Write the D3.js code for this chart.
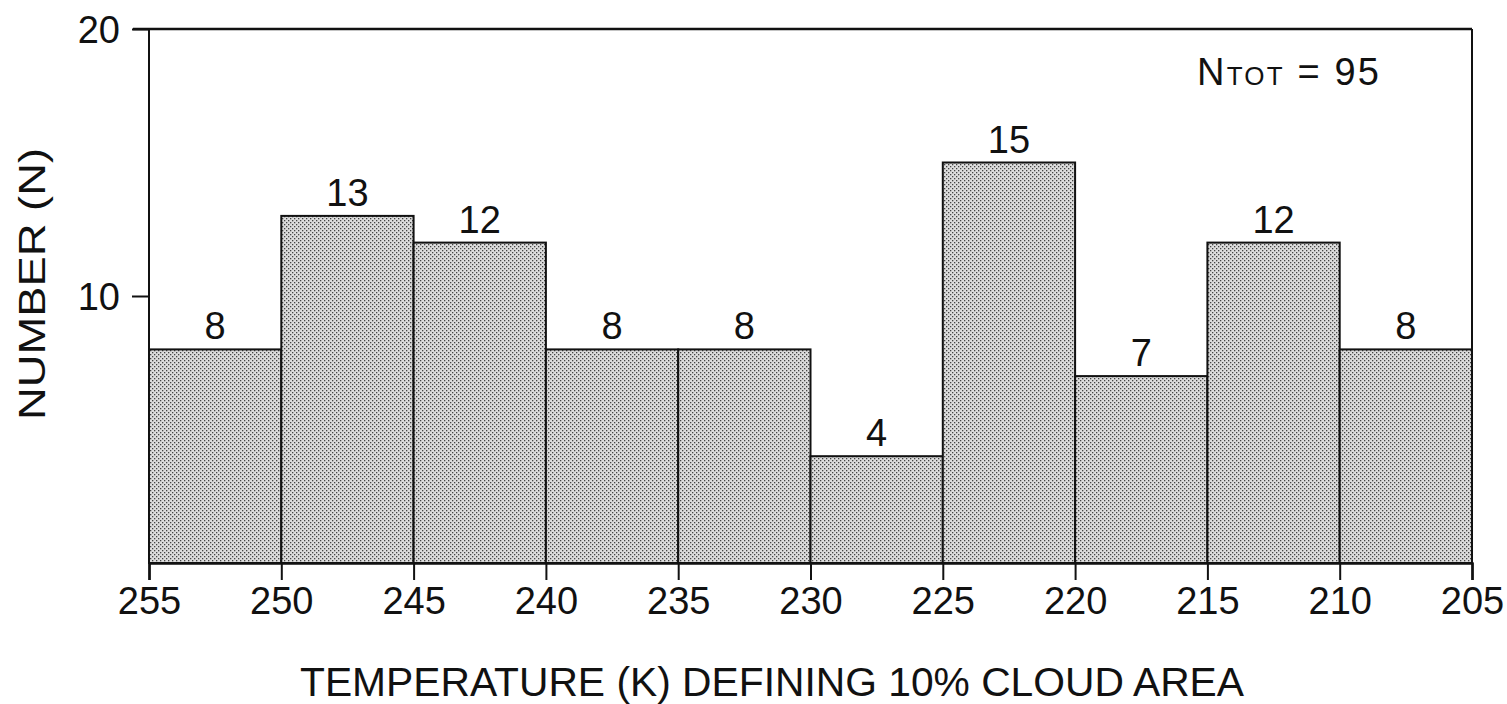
<!DOCTYPE html>
<html><head><meta charset="utf-8">
<script src="https://cdn.jsdelivr.net/npm/d3@7"></script>
<style>
html,body{margin:0;padding:0;background:#fff;}
text{font-family:"Liberation Sans",Arial,Helvetica,sans-serif;fill:#111;}
</style></head>
<body><svg id="c" width="1507" height="704"></svg>
<script>
const binEdges = [255, 250, 245, 240, 235, 230, 225, 220, 215, 210, 205];
const counts = [8, 13, 12, 8, 8, 4, 15, 7, 12, 8];
const yTicks = [10, 20];
const total = 95;

const svg = d3.select("#c");
const mLeft = 149, mRight = 1472, mTop = 29, mBottom = 563;
const x = d3.scaleLinear().domain([255, 205]).range([mLeft, mRight]);
const y = d3.scaleLinear().domain([0, 20]).range([mBottom, mTop]);

const defs = svg.append("defs");
const pat = defs.append("pattern").attr("id","dots").attr("patternUnits","userSpaceOnUse")
  .attr("width",4).attr("height",4);
pat.append("rect").attr("width",4).attr("height",4).attr("fill","#dcdcdc");
pat.append("rect").attr("x",0).attr("y",0).attr("width",1.3).attr("height",1.3).attr("fill","#444");
pat.append("rect").attr("x",2).attr("y",2).attr("width",1.3).attr("height",1.3).attr("fill","#444");

const bins = counts.map((c,i)=>({x0:binEdges[i], x1:binEdges[i+1], n:c}));

// bars
svg.append("g").selectAll("rect").data(bins).join("rect")
  .attr("x", d=>x(d.x0)).attr("width", d=>x(d.x1)-x(d.x0))
  .attr("y", d=>y(d.n)).attr("height", d=>y(0)-y(d.n))
  .attr("fill","url(#dots)").attr("stroke","#111").attr("stroke-width",2);

// frame
svg.append("line").attr("x1",x(255)-16).attr("x2",x(205)).attr("y1",y(20)).attr("y2",y(20)).attr("stroke","#111").attr("stroke-width",2.5);
svg.append("line").attr("x1",x(255)).attr("x2",x(255)).attr("y1",y(20)).attr("y2",y(0)).attr("stroke","#111").attr("stroke-width",2);
svg.append("line").attr("x1",x(205)).attr("x2",x(205)).attr("y1",y(20)).attr("y2",y(0)).attr("stroke","#111").attr("stroke-width",2);

// x axis
const xAxis = d3.axisBottom(x).tickValues(binEdges).tickSize(17).tickPadding(6).tickFormat(d3.format("d"));
const gx = svg.append("g").attr("transform",`translate(0,${mBottom})`).call(xAxis);
gx.select(".domain").attr("stroke","#111").attr("stroke-width",2.5);
gx.selectAll(".tick line").attr("stroke","#111").attr("stroke-width",2);
gx.selectAll(".tick text").attr("font-size",38).attr("fill","#111")
  .attr("font-family","'Liberation Sans',Arial,sans-serif").attr("dy","0.74em");

// y axis
const yAxis = d3.axisLeft(y).tickValues(yTicks).tickSize(17).tickPadding(12).tickFormat(d3.format("d"));
const gy = svg.append("g").attr("transform",`translate(${mLeft},0)`).call(yAxis);
gy.select(".domain").remove();
gy.selectAll(".tick line").attr("stroke","#111").attr("stroke-width",2);
gy.selectAll(".tick text").attr("font-size",38).attr("fill","#111")
  .attr("font-family","'Liberation Sans',Arial,sans-serif").attr("dy","0.36em");

// bar labels
svg.append("g").selectAll("text").data(bins).join("text")
  .attr("x", d=>(x(d.x0)+x(d.x1))/2).attr("y", d=>y(d.n)-10)
  .attr("text-anchor","middle").attr("font-size",38).text(d=>d.n);

// N_TOT
const nt = svg.append("text").attr("x",1197).attr("y",85).attr("font-size",38)
  .attr("textLength",182).attr("lengthAdjust","spacing");
nt.append("tspan").text("N");
nt.append("tspan").attr("font-size",26).text("TOT");
nt.append("tspan").text(" = " + total);

// axis titles
svg.append("text").attr("x",772).attr("y",696).attr("text-anchor","middle")
  .attr("font-size",40).attr("textLength",944).attr("lengthAdjust","spacingAndGlyphs")
  .text("TEMPERATURE (K) DEFINING 10% CLOUD AREA");
svg.append("text").attr("transform","translate(45,284) rotate(-90)").attr("text-anchor","middle")
  .attr("font-size",37).attr("textLength",272).attr("lengthAdjust","spacingAndGlyphs")
  .text("NUMBER (N)");
</script></body></html>
